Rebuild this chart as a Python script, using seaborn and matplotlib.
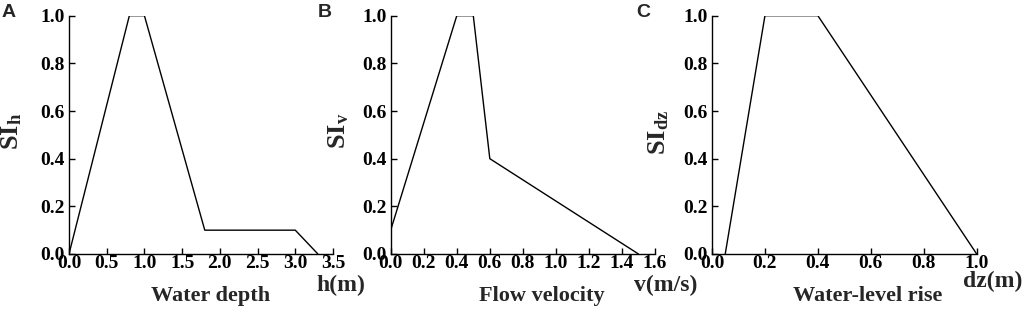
import matplotlib
matplotlib.use("Agg")
import matplotlib.pyplot as plt
import seaborn as sns
import pandas as pd

# Data
depth_x = [0.0, 0.8, 1.0, 1.8, 3.0, 3.3]
depth_si = [0.0, 1.0, 1.0, 0.1, 0.1, 0.0]
vel_x = [0.0, 0.4, 0.5, 0.6, 1.5]
vel_si = [0.1, 1.0, 1.0, 0.4, 0.0]
rise_x = [0.05, 0.2, 0.4, 1.0]
rise_si = [0.0, 1.0, 1.0, 0.0]

depth_ticks = [0.0, 0.5, 1.0, 1.5, 2.0, 2.5, 3.0, 3.5]
vel_ticks = [0.0, 0.2, 0.4, 0.6, 0.8, 1.0, 1.2, 1.4, 1.6]
rise_ticks = [0.0, 0.2, 0.4, 0.6, 0.8, 1.0]
y_ticks = [0.0, 0.2, 0.4, 0.6, 0.8, 1.0]

panel_letters = ["A", "B", "C"]
x_titles = ["Water depth", "Flow velocity", "Water-level rise"]
x_units = ["h(m)", "v(m/s)", "dz(m)"]
y_titles = [r"$\mathbf{SI_h}$", r"$\mathbf{SI_v}$", r"$\mathbf{SI_{dz}}$"]

sns.set_style("ticks")
plt.rcParams["font.family"] = ["Liberation Serif", "DejaVu Serif"]
plt.rcParams["font.weight"] = "bold"
plt.rcParams["mathtext.fontset"] = "custom"
plt.rcParams["mathtext.rm"] = "Liberation Serif"
plt.rcParams["mathtext.bf"] = "Liberation Serif:bold"
plt.rcParams["mathtext.it"] = "Liberation Serif:italic:bold"

W, H = 1024, 313
fig = plt.figure(figsize=(W / 100, H / 100), dpi=100)

def fx(px):
    return px / W

def fy(py):
    return 1 - py / H

axes_px = [(69, 333), (390.7, 655), (712, 976.7)]
top_px, bot_px = 15.7, 254

datasets = [
    (depth_x, depth_si, depth_ticks, (0, 3.5)),
    (vel_x, vel_si, vel_ticks, (0, 1.6)),
    (rise_x, rise_si, rise_ticks, (0, 1.0)),
]

xlabel_pos = [(211, 296), (542, 296), (868, 296)]
unit_pos = [(341, 285), (666, 285), (993, 281)]
ylabel_pos = [(12, 131), (339, 131), (659, 132)]
letter_pos = [(2, 4), (318, 4), (636, 4)]

for i, (xs, ys, ticks, xlim) in enumerate(datasets):
    l, r = axes_px[i]
    ax = fig.add_axes([fx(l), fy(bot_px), fx(r - l), (bot_px - top_px) / H])
    df = pd.DataFrame({"x": xs, "y": ys})
    sns.lineplot(data=df, x="x", y="y", ax=ax, color="black", lw=1.0,
                 sort=False, estimator=None)
    ax.set_xlim(*xlim)
    ax.set_ylim(0, 1.0)
    ax.set_xticks(ticks)
    ax.set_xticklabels([f"{t:.1f}" for t in ticks])
    ax.set_yticks(y_ticks)
    ax.set_yticklabels([f"{t:.1f}" for t in y_ticks])
    ax.tick_params(direction="in", length=4, width=1, colors="black",
                   labelsize=14)
    ax.tick_params(axis="x", pad=1)
    ax.tick_params(axis="y", pad=3)
    for lab in ax.get_xticklabels() + ax.get_yticklabels():
        lab.set_fontweight("bold")
    ax.set_xlabel("")
    ax.set_ylabel("")
    for side in ["top", "right"]:
        ax.spines[side].set_visible(False)
    for side in ["left", "bottom"]:
        ax.spines[side].set_linewidth(1.0)
        ax.spines[side].set_color("black")
    ax.set_facecolor("white")

    fig.text(fx(xlabel_pos[i][0]), fy(xlabel_pos[i][1]), x_titles[i],
             ha="center", va="center", fontsize=16, fontweight="bold")
    fig.text(fx(unit_pos[i][0]), fy(unit_pos[i][1]), x_units[i],
             ha="center", va="center", fontsize=17, fontweight="bold")
    fig.text(fx(ylabel_pos[i][0]), fy(ylabel_pos[i][1]), y_titles[i],
             ha="center", va="center", fontsize=19, rotation=90)
    fig.text(fx(letter_pos[i][0]), fy(letter_pos[i][1]), panel_letters[i],
             ha="left", va="top", fontsize=14, fontweight="bold",
             family=["Liberation Sans", "DejaVu Sans"])

fig.savefig("out.png", dpi=100, facecolor="white")
